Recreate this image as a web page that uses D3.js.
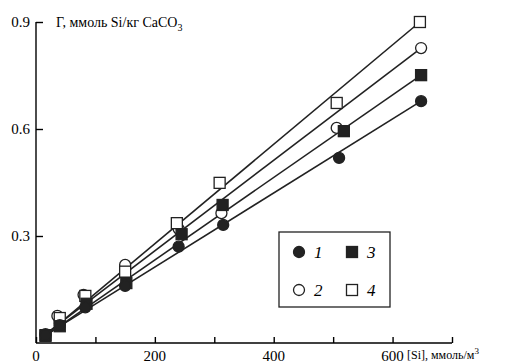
<!DOCTYPE html>
<html>
<head>
<meta charset="utf-8">
<script src="https://cdn.jsdelivr.net/npm/d3@7"></script>
<style>
  body { margin: 0; background: #fff; }
  svg { display: block; font-family: 'Liberation Serif', 'DejaVu Serif', serif; }
</style>
</head>
<body>
<div id="chart"></div>
<script>
// data
const series1 = [[16, 0.022], [40, 0.05], [83, 0.1], [150, 0.16], [240, 0.27], [315, 0.331], [510, 0.519], [648, 0.678]];
const series2 = [[16, 0.025], [36, 0.076], [80, 0.135], [150, 0.219], [240, 0.32], [312, 0.364], [506, 0.603], [648, 0.827]];
const series3 = [[16, 0.02], [40, 0.047], [85, 0.11], [152, 0.168], [245, 0.305], [314, 0.387], [518, 0.594], [648, 0.751]];
const series4 = [[16, 0.022], [40, 0.07], [83, 0.132], [150, 0.2], [237, 0.336], [309, 0.449], [506, 0.673], [646, 0.9]];
const seriesNames = ['1', '2', '3', '4'];
const xTicks = [0, 100, 200, 300, 400, 500, 600, 700];
const xTickLabels = [0, 200, 400, 600];
const yTicks = [0.3, 0.6, 0.9];

const width = 515, height = 363;
const margin = { top: 22, right: 63, bottom: 20, left: 36 };

const svg = d3.select('#chart').append('svg')
    .attr('width', width)
    .attr('height', height);

const x = d3.scaleLinear()
    .domain([0, 700])
    .range([margin.left, width - margin.right]);

const y = d3.scaleLinear()
    .domain([0, 0.9])
    .range([height - margin.bottom, margin.top]);

// axes, ticks inward
const xAxis = svg.append('g')
    .attr('transform', 'translate(0,' + y(0) + ')')
    .call(d3.axisTop(x).tickValues(xTicks).tickSize(6).tickFormat(''));
xAxis.select('.domain').attr('d', 'M' + x(0) + ',0H' + x(700)).attr('stroke-width', 1.4);
xAxis.selectAll('.tick line').attr('stroke-width', 1.4);

svg.append('g').selectAll('text')
    .data(xTickLabels)
    .enter().append('text')
    .attr('x', d => x(d))
    .attr('y', height - 2)
    .attr('text-anchor', 'middle')
    .attr('font-size', 15)
    .text(d => d);

const yAxis = svg.append('g')
    .attr('transform', 'translate(' + x(0) + ',0)')
    .call(d3.axisRight(y).tickValues(yTicks).tickSize(7).tickFormat(''));
yAxis.select('.domain').attr('d', 'M0,' + y(0) + 'V' + y(0.9)).attr('stroke-width', 1.4);
yAxis.selectAll('.tick line').attr('stroke-width', 1.4);

svg.append('g').selectAll('text')
    .data(yTicks)
    .enter().append('text')
    .attr('x', x(0) - 6)
    .attr('y', d => y(d) + 5)
    .attr('text-anchor', 'end')
    .attr('font-size', 15)
    .text(d => d.toFixed(1));

// axis titles
const yTitle = svg.append('text')
    .attr('x', 56)
    .attr('y', 27)
    .attr('font-size', 14);
yTitle.append('tspan').text('Γ, ммоль Si/кг CaCO');
yTitle.append('tspan').attr('font-size', 10).attr('dy', 4).text('3');

const xTitle = svg.append('text')
    .attr('x', 407)
    .attr('y', 359)
    .attr('font-size', 12);
xTitle.append('tspan').text('[Si], ммоль/м');
xTitle.append('tspan').attr('font-size', 9).attr('dy', -5).text('3');

// straight lines from first to last point of each series
const allSeries = [series1, series2, series3, series4];
const g = svg.append('g');

allSeries.forEach(function (s) {
    const first = s[0], last = s[s.length - 1];
    g.append('line')
        .attr('x1', x(first[0])).attr('y1', y(first[1]))
        .attr('x2', x(last[0])).attr('y2', y(last[1]))
        .attr('stroke', '#222')
        .attr('stroke-width', 1.6);
});

function drawMarker(sel, kind, cx, cy) {
    if (kind === '1' || kind === '2') {
        sel.append('circle')
            .attr('cx', cx).attr('cy', cy).attr('r', 5.5)
            .attr('fill', kind === '1' ? '#222' : '#fff')
            .attr('stroke', '#222').attr('stroke-width', 1.3);
    } else {
        sel.append('rect')
            .attr('x', cx - 5.5).attr('y', cy - 5.5)
            .attr('width', 11).attr('height', 11)
            .attr('fill', kind === '3' ? '#222' : '#fff')
            .attr('stroke', '#222').attr('stroke-width', 1.3);
    }
}

// draw order: open markers under filled ones
[1, 3, 2, 0].forEach(function (i) {
    const pts = g.append('g');
    allSeries[i].forEach(d => drawMarker(pts, seriesNames[i], x(d[0]), y(d[1])));
});

// legend
const legend = svg.append('g');
legend.append('rect')
    .attr('x', 279).attr('y', 232)
    .attr('width', 111).attr('height', 75)
    .attr('fill', '#fff')
    .attr('stroke', '#222').attr('stroke-width', 1.3);

const legendPos = [[299, 252], [299, 290], [352, 252], [352, 290]];
seriesNames.forEach(function (name, i) {
    const p = legendPos[i];
    drawMarker(legend, name, p[0], p[1]);
    legend.append('text')
        .attr('x', p[0] + 15)
        .attr('y', p[1] + 6)
        .attr('font-size', 17)
        .attr('font-style', 'italic')
        .text(name);
});
</script>
</body>
</html>
